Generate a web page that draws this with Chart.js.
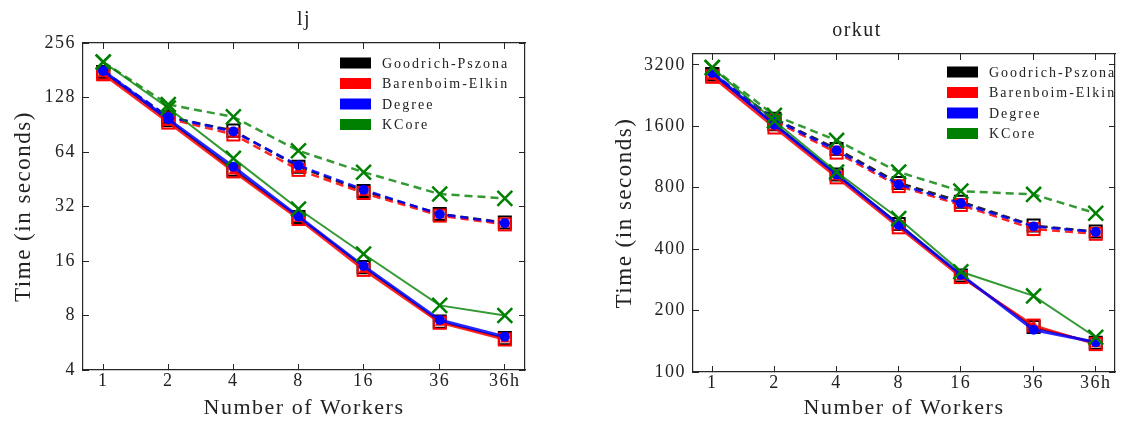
<!DOCTYPE html>
<html>
<head>
<meta charset="utf-8">
<script src="https://cdn.jsdelivr.net/npm/chart.js@4.4.0/dist/chart.umd.min.js"></script>
<style>
  html, body { margin: 0; padding: 0; background: #fff; overflow: hidden; }
  body { width: 1127px; height: 425px; position: relative; }
  canvas { position: absolute; top: 0; }
  #lj { left: 0; }
  #orkut { left: 586px; }
</style>
</head>
<body>
<canvas id="lj" width="560" height="425"></canvas>
<canvas id="orkut" width="542" height="425"></canvas>
<script>
// worker counts; "36h" is drawn one octave right of 36
const workers = [1, 2, 4, 8, 16, 36, 72];
const workerLabels = ['1', '2', '4', '8', '16', '36', '36h'];
const algos = ['Goodrich-Pszona', 'Barenboim-Elkin', 'Degree', 'KCore'];

// lj (seconds)
const ljTicks = [4, 8, 16, 32, 64, 128, 256];
const ljGP    = [177, 96, 51, 28, 14.8, 7.4, 6.0];
const ljGPd   = [177, 100, 84, 53, 39, 29.1, 26.1];
const ljBE    = [172, 93, 50, 27.3, 14.3, 7.3, 5.9];
const ljBEd   = [174, 98, 80, 51, 38, 28.5, 25.5];
const ljDeg   = [180, 97, 53, 28.2, 15, 7.55, 6.1];
const ljDegd  = [180, 100, 83, 54, 39.6, 29, 25.9];
const ljKC    = [201, 112, 59, 31, 17.5, 9.1, 8.0];
const ljKCd   = [201, 117, 100, 65, 49.5, 37.5, 35.5];

// orkut (seconds)
const okTicks = [100, 200, 400, 800, 1600, 3200];
const okGP    = [2880, 1640, 930, 532, 297, 166, 139];
const okGPd   = [2880, 1745, 1240, 845, 684, 522, 488];
const okBE    = [2800, 1580, 900, 512, 292, 169, 137];
const okBEd   = [2820, 1700, 1190, 815, 659, 502, 476];
const okDeg   = [2930, 1630, 930, 526, 300, 161, 140];
const okDegd  = [2930, 1730, 1217, 830, 672, 517, 486];
const okKC    = [3103, 1700, 956, 565, 310, 236, 148];
const okKCd   = [3103, 1810, 1365, 955, 770, 742, 600];

Chart.defaults.font.family = '"Liberation Serif", "Times New Roman", serif';
Chart.defaults.color = '#222';

const ink = '#262626';

function redMarker() {
  const c = document.createElement('canvas');
  c.width = 16; c.height = 16;
  const g = c.getContext('2d');
  g.strokeStyle = '#ff0000';
  g.lineWidth = 2;
  g.strokeRect(2, 2, 12, 12);
  g.fillStyle = '#ff0000';
  g.beginPath();
  g.moveTo(8, 2); g.lineTo(13, 11); g.lineTo(3, 11);
  g.closePath();
  g.fill();
  return c;
}

const looks = [
  { color: '#000000', line: 'rgba(0,0,0,0.85)', width: 2, style: 'rect', radius: 8.5, bg: 'rgba(0,0,0,0)', bw: 2, order: 4 },
  { color: '#ff0000', line: 'rgba(255,0,0,0.85)', width: 2.5, style: redMarker(), radius: 8, bg: '#ff0000', bw: 0, order: 3 },
  { color: '#0000ff', line: 'rgba(0,0,255,0.85)', width: 3, style: 'circle', radius: 5, bg: '#0000ff', bw: 0, order: 2 },
  { color: '#008000', line: 'rgba(0,128,0,0.8)', width: 2, style: 'crossRot', radius: 10.5, bg: '#008000', bw: 2.5, order: 1 }
];

function buildSets(solid, dashed) {
  const sets = [];
  algos.forEach((name, i) => {
    const lk = looks[i];
    [solid[i], dashed[i]].forEach((vals, k) => {
      sets.push({
        label: name,
        inLegend: k === 0,
        patchColor: lk.color,
        data: vals.map((v, j) => ({ x: workers[j], y: v })),
        borderColor: lk.line,
        borderWidth: k === 0 ? lk.width : 2.5,
        borderDash: k === 0 ? [] : [8, 5],
        pointStyle: lk.style,
        pointRadius: lk.radius,
        pointBackgroundColor: lk.bg,
        pointBorderColor: lk.color,
        pointBorderWidth: lk.bw,
        tension: 0,
        fill: false,
        clip: false,
        order: lk.order
      });
    });
  });
  return sets;
}

const spacing = {
  id: 'spacing',
  beforeDraw(chart) { chart.ctx.letterSpacing = '1.5px'; }
};

const boxLegend = {
  id: 'boxLegend',
  afterDraw(chart, args, opts) {
    const { ctx, chartArea } = chart;
    const x0 = chartArea.left + opts.dx;
    const y0 = chartArea.top + opts.dy;
    ctx.save();
    ctx.font = '14px "Liberation Serif", serif';
    ctx.letterSpacing = '2px';
    ctx.textBaseline = 'middle';
    let row = 0;
    chart.data.datasets.forEach(ds => {
      if (!ds.inLegend) return;
      const y = y0 + row * 20.5;
      ctx.fillStyle = ds.patchColor;
      ctx.fillRect(x0, y - 5.5, 31, 11);
      ctx.fillStyle = '#222';
      ctx.fillText(ds.label, x0 + 42, y + 1);
      row++;
    });
    ctx.restore();
  }
};

const xMin = workers[0] / Math.pow(2, 0.31);
const xMax = workers[workers.length - 1] * Math.pow(2, 0.31);

function makeChart(id, p) {
  const grid = { drawOnChartArea: false, drawTicks: true, tickLength: -6, color: ink, lineWidth: 1 };
  const border = { display: true, color: ink, width: 1.2 };
  const yTicks = s => { s.ticks = p.yTicks.map(v => ({ value: v })); };
  const xTicks = s => { s.ticks = workers.map(v => ({ value: v })); };
  new Chart(document.getElementById(id), {
    type: 'line',
    data: { datasets: buildSets(p.solid, p.dashed) },
    options: {
      responsive: false,
      animation: false,
      events: [],
      layout: { padding: { left: 0, top: 0, right: p.padRight, bottom: 0 } },
      scales: {
        x: {
          type: 'logarithmic', position: 'bottom', min: xMin, max: xMax,
          afterBuildTicks: xTicks,
          afterFit: s => { s.height = 425 - p.bottom; },
          grid, border,
          ticks: { autoSkip: false, maxRotation: 0, padding: 6, font: { size: 18 },
                   callback: (v, i) => workerLabels[i] },
          title: { display: true, text: 'Number of Workers', font: { size: 22 },
                   padding: { top: 0, bottom: 4 } }
        },
        xTop: {
          type: 'logarithmic', position: 'top', min: xMin, max: xMax,
          afterBuildTicks: xTicks,
          afterFit: s => { s.height = 0; },
          grid, border,
          ticks: { display: false }
        },
        y: {
          type: 'logarithmic', position: 'left', min: p.yMin, max: p.yMax,
          afterBuildTicks: yTicks,
          afterFit: s => { s.width = p.left; },
          grid, border,
          ticks: { padding: 13, font: { size: 18 }, callback: v => String(v) },
          title: { display: true, text: 'Time (in seconds)', font: { size: 23 },
                   padding: { top: p.yTitlePad, bottom: 0 } }
        },
        yRight: {
          type: 'logarithmic', position: 'right', min: p.yMin, max: p.yMax,
          afterBuildTicks: yTicks,
          afterFit: s => { s.width = 0; },
          grid, border,
          ticks: { display: false }
        }
      },
      plugins: {
        legend: { display: false },
        tooltip: { enabled: false },
        title: {
          display: true, text: p.title, fullSize: p.titleFull,
          font: { size: 20, weight: 'normal' }, color: '#222',
          padding: { top: p.titleTop, bottom: 11 }
        },
        boxLegend: { dx: p.legendDx, dy: p.legendDy }
      }
    },
    plugins: [spacing, boxLegend]
  });
}

makeChart('lj', {
  title: 'lj', titleFull: false, titleTop: 8,
  solid: [ljGP, ljBE, ljDeg, ljKC], dashed: [ljGPd, ljBEd, ljDegd, ljKCd],
  yTicks: ljTicks, yMin: 4, yMax: 256,
  left: 83, padRight: 35, bottom: 370, yTitlePad: 10,
  legendDx: 257, legendDy: 20
});

makeChart('orkut', {
  title: 'orkut', titleFull: true, titleTop: 19,
  solid: [okGP, okBE, okDeg, okKC], dashed: [okGPd, okBEd, okDegd, okKCd],
  yTicks: okTicks, yMin: 100, yMax: 3620,
  left: 107, padRight: 0, bottom: 372, yTitlePad: 25,
  legendDx: 254, legendDy: 18
});
</script>
</body>
</html>
